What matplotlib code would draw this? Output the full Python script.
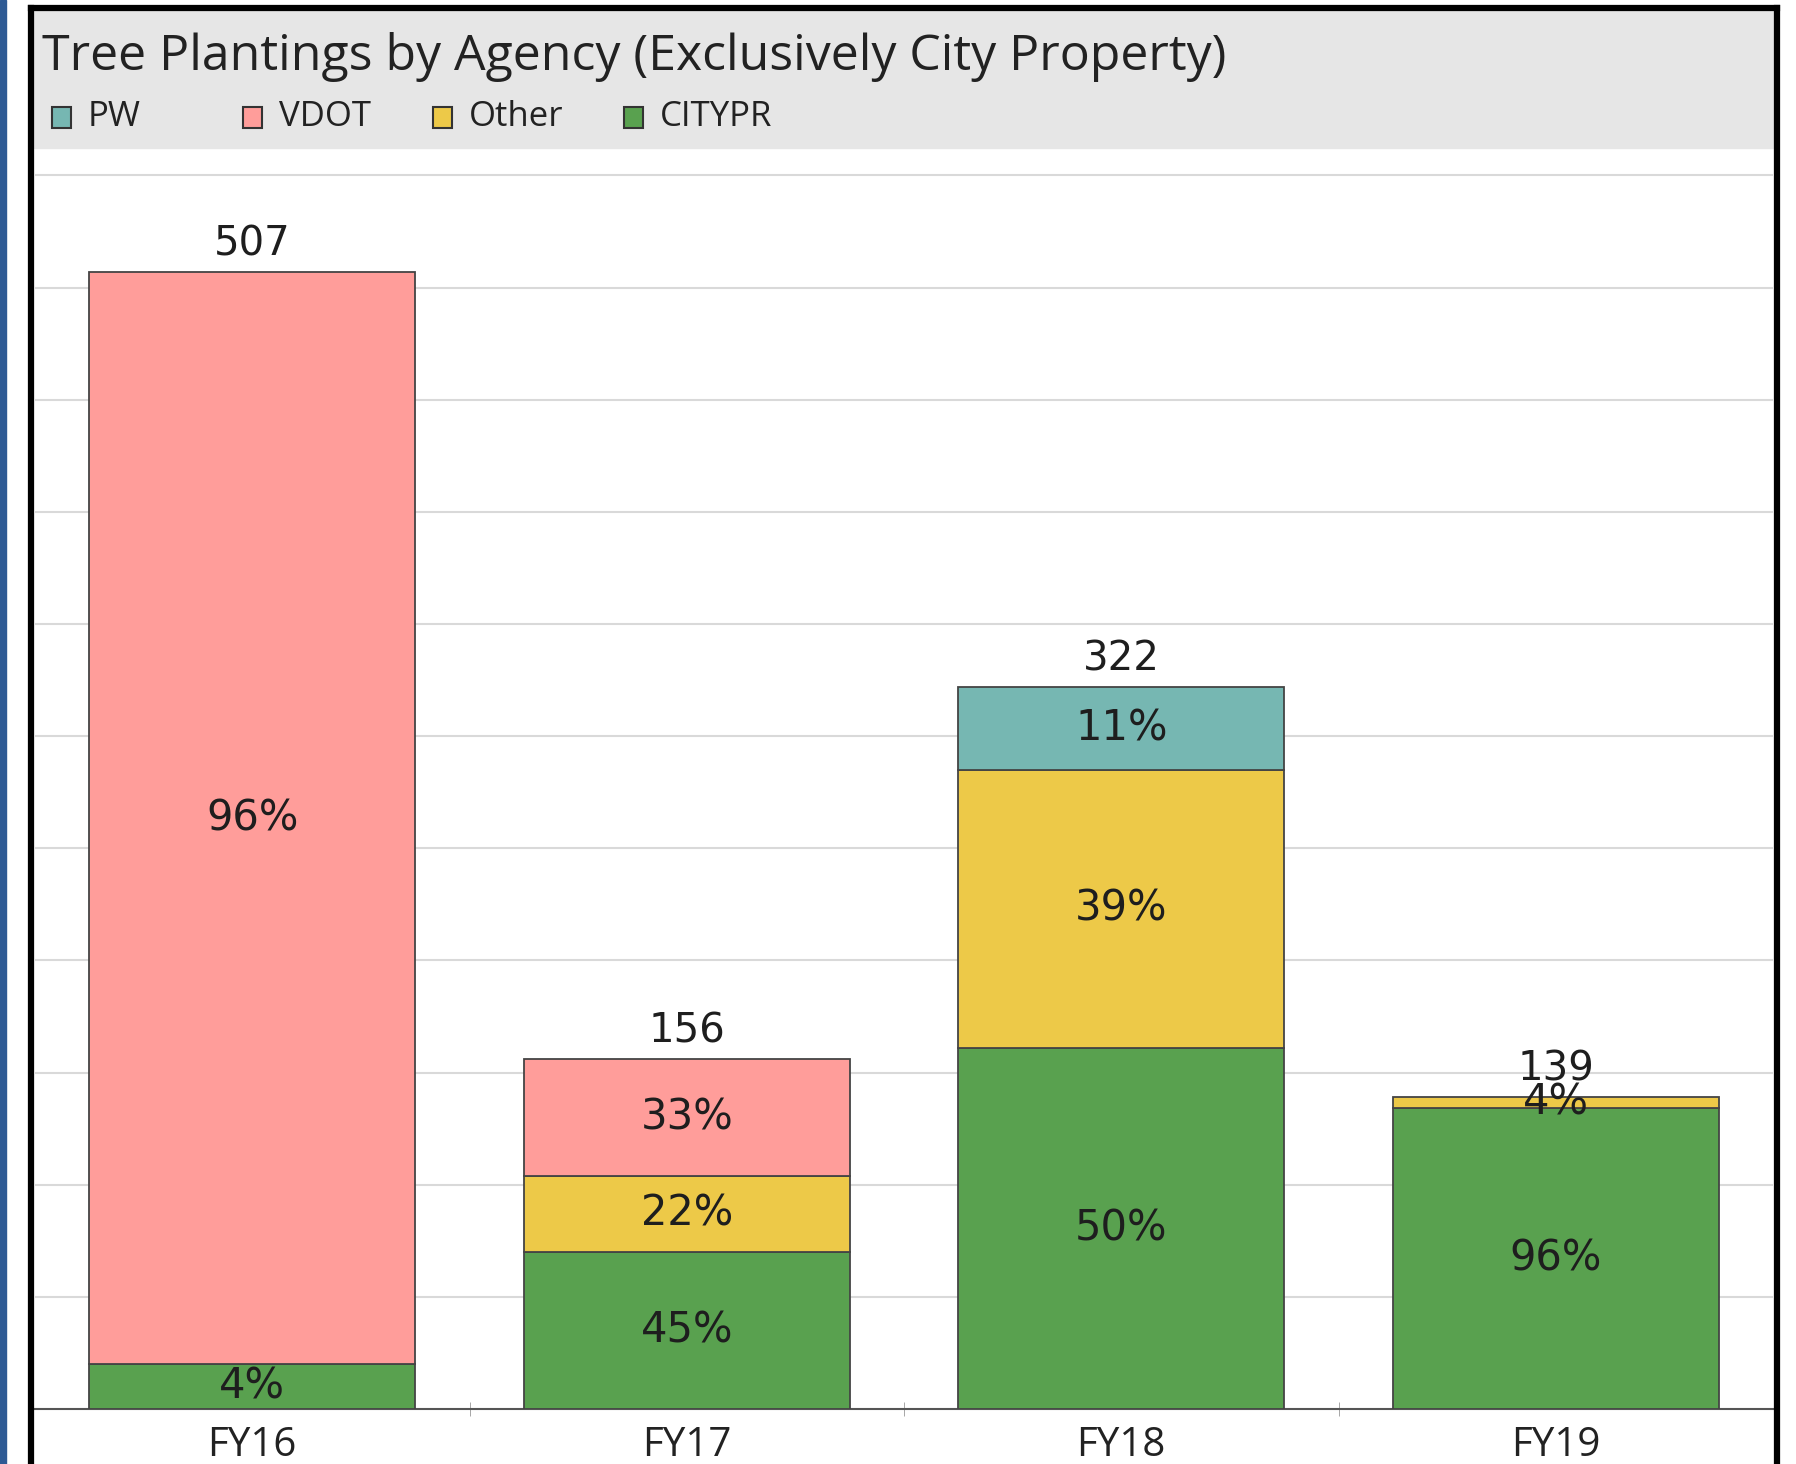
import matplotlib
matplotlib.use("Agg")
import matplotlib.pyplot as plt
from matplotlib.patches import Rectangle
import numpy as np

years = ["FY16", "FY17", "FY18", "FY19"]
agencies = ["PW", "VDOT", "Other", "CITYPR"]
# stacked bottom -> top
citypr = [20, 70, 161, 134]
other = [0, 34, 124, 5]
vdot = [487, 52, 0, 0]
pw = [0, 0, 37, 0]

colors = {"PW": "#76b7b2", "VDOT": "#ff9d9a", "Other": "#edc948", "CITYPR": "#59a14f"}
narrow = ["Open Sans", "DejaVu Sans"]

W, H = 1796, 1464
fig = plt.figure(figsize=(W / 100, H / 100), dpi=100)

# window chrome: blue strip, black frame, grey header
fig.patches.append(Rectangle((0, 0), 6 / W, 1, transform=fig.transFigure,
                             color="#2e5a94", zorder=0))
fig.patches.append(Rectangle((34 / W, 1 - 148 / H), (1774 - 34) / W, (148 - 11) / H,
                             transform=fig.transFigure, color="#e6e6e6", zorder=0))
fig.add_artist(plt.Line2D([31 / W, 31 / W], [0, 1 - 8 / H], transform=fig.transFigure,
                          color="black", lw=4.5))
fig.add_artist(plt.Line2D([31 / W, 1777 / W], [1 - 8 / H, 1 - 8 / H], transform=fig.transFigure,
                          color="black", lw=4.5))
fig.add_artist(plt.Line2D([1777 / W, 1777 / W], [0, 1 - 8 / H], transform=fig.transFigure,
                          color="black", lw=4.5))

fig.text(42 / W, 1 - 57 / H, "Tree Plantings by Agency (Exclusively City Property)",
         family=narrow, fontsize=36, color="#222222", va="center", ha="left")

leg_sq = [52, 243, 433, 624]
for name, sx in zip(agencies, leg_sq):
    fig.patches.append(Rectangle((sx / W, 1 - 128 / H), 19 / W, 21 / H, transform=fig.transFigure,
                                 facecolor=colors[name], edgecolor="#333333", lw=1.5, zorder=2))
    fig.text((sx + 36) / W, 1 - 117 / H, name, family=narrow, fontsize=25,
             color="#222222", va="center", ha="left")

ax = fig.add_axes([35 / W, 1 - 1409 / H, (1773 - 35) / W, (1409 - 153) / H])
x = np.arange(len(years))
totals = np.array(citypr) + np.array(other) + np.array(vdot) + np.array(pw)
bottom = np.zeros(len(years))
for name, vals in [("CITYPR", citypr), ("Other", other), ("VDOT", vdot), ("PW", pw)]:
    vals = np.array(vals, dtype=float)
    mask = vals > 0
    ax.bar(x[mask], vals[mask], 0.75, bottom=bottom[mask], color=colors[name],
           edgecolor="#444444", linewidth=1.3, zorder=3)
    for i in x[mask]:
        pct = vals[i] / totals[i] * 100
        ax.text(i, bottom[i] + vals[i] / 2, f"{pct:.0f}%", ha="center", va="center",
                fontsize=30, color="#1e1e1e", zorder=4)
    bottom += vals

for i, t in enumerate(totals):
    ax.annotate(str(t), (i, t), xytext=(0, 20), textcoords="offset points",
                ha="center", va="center", fontsize=29, color="#1e1e1e")

ax.set_xlim(-0.5, 3.5)
ax.set_ylim(0, 560)
ax.set_yticks(np.arange(50, 551, 50))
ax.yaxis.grid(True, color="#d9d9d9", lw=1.5)
ax.set_axisbelow(True)
ax.tick_params(axis="y", left=False, labelleft=False)
ax.set_xticks(x)
ax.set_xticklabels(years, family=narrow, fontsize=29, color="#222222")
ax.set_xticks([0.5, 1.5, 2.5], minor=True)
ax.tick_params(axis="x", which="major", length=0, pad=12)
ax.tick_params(axis="x", which="minor", length=10, color="#999999", direction="inout")
for s in ["top", "right", "left"]:
    ax.spines[s].set_visible(False)
ax.spines["bottom"].set_color("#555555")
ax.spines["bottom"].set_linewidth(1.5)

fig.savefig("out.png", dpi=100)
